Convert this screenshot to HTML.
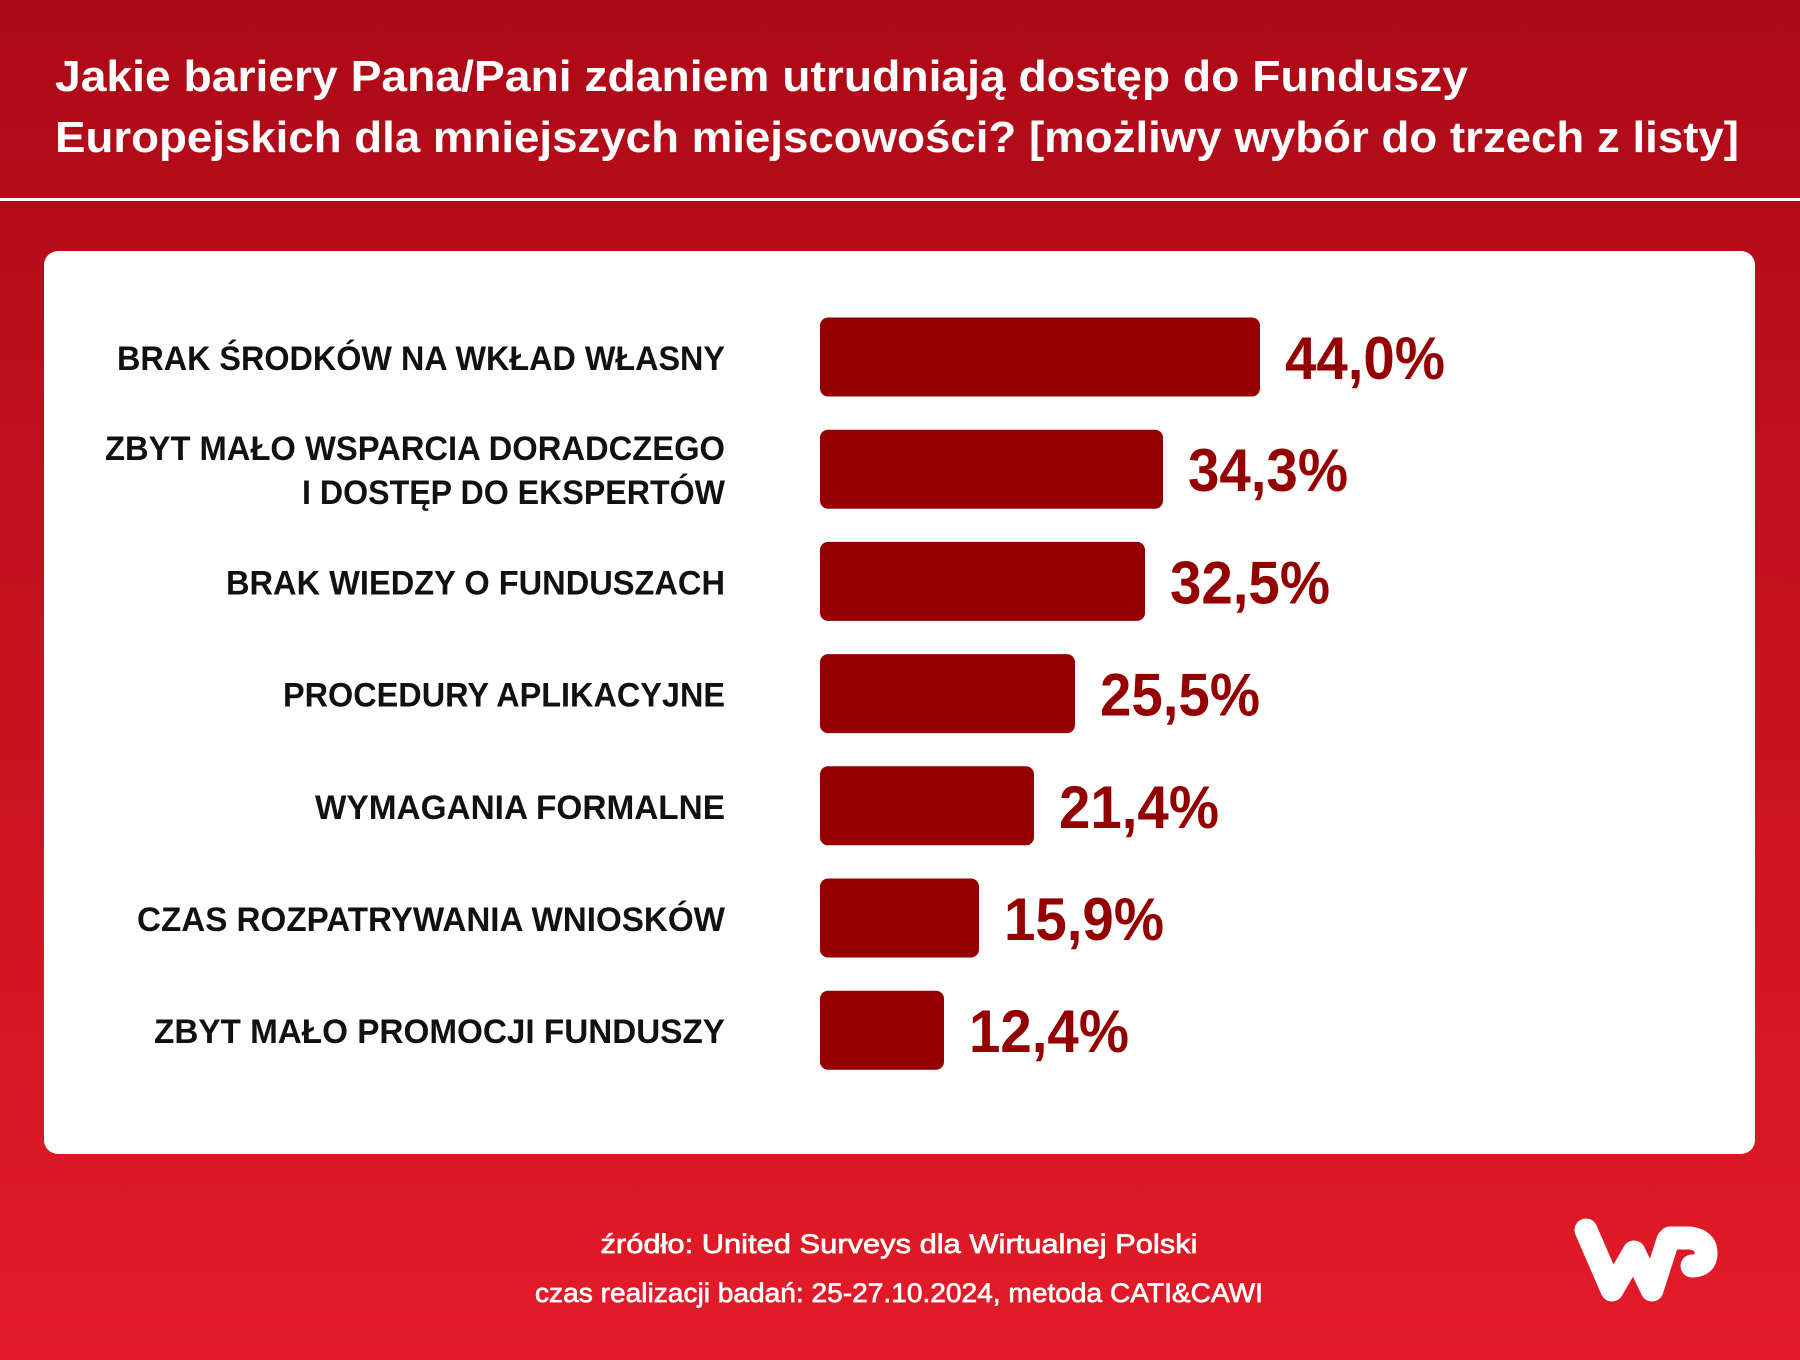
<!DOCTYPE html>
<html><head><meta charset="utf-8"><style>
html,body{margin:0;padding:0;width:1800px;height:1360px;overflow:hidden}
svg{display:block}
</style></head><body>
<svg id="chart" width="1800" height="1360" viewBox="0 0 1800 1360" xmlns="http://www.w3.org/2000/svg" font-family="'Liberation Sans', sans-serif">
<defs><linearGradient id="bg" x1="0" y1="0" x2="0" y2="1"><stop offset="0" stop-color="#ad0917"/><stop offset="1" stop-color="#e31b28"/></linearGradient></defs>
<rect x="0" y="0" width="1800" height="1360" fill="url(#bg)"/>
<text x="55" y="91" font-size="44" font-weight="bold" fill="#fff" textLength="1413" lengthAdjust="spacingAndGlyphs">Jakie bariery Pana/Pani zdaniem utrudniają dostęp do Funduszy</text>
<text x="55" y="152" font-size="44" font-weight="bold" fill="#fff" textLength="1684" lengthAdjust="spacingAndGlyphs">Europejskich dla mniejszych miejscowości? [możliwy wybór do trzech z listy]</text>
<rect x="0" y="198" width="1800" height="3" fill="#fff"/>
<rect x="44" y="251" width="1711" height="903" rx="14" fill="#fff"/>
<g id="bars"></g>
<text x="899" y="1253" font-size="27" fill="#fff" stroke="#fff" stroke-width="0.7" text-anchor="middle" textLength="597" lengthAdjust="spacingAndGlyphs">źródło: United Surveys dla Wirtualnej Polski</text>
<text x="899" y="1302" font-size="27" fill="#fff" stroke="#fff" stroke-width="0.7" text-anchor="middle" textLength="728" lengthAdjust="spacingAndGlyphs">czas realizacji badań: 25-27.10.2024, metoda CATI&amp;CAWI</text>
<g fill="none" stroke="#fff" stroke-linecap="round" stroke-linejoin="round" stroke-width="23">
<path d="M1586 1230 L1612 1290 L1634 1252 L1652 1290 L1668 1240"/>
<path d="M1670 1238 L1690 1238 Q1706 1240 1706 1253 Q1706 1266 1692 1266"/>
</g>
</svg>
<script>
const categories = [
  ["BRAK ŚRODKÓW NA WKŁAD WŁASNY"],
  ["ZBYT MAŁO WSPARCIA DORADCZEGO","I DOSTĘP DO EKSPERTÓW"],
  ["BRAK WIEDZY O FUNDUSZACH"],
  ["PROCEDURY APLIKACYJNE"],
  ["WYMAGANIA FORMALNE"],
  ["CZAS ROZPATRYWANIA WNIOSKÓW"],
  ["ZBYT MAŁO PROMOCJI FUNDUSZY"]
];
const values = [44.0, 34.3, 32.5, 25.5, 21.4, 15.9, 12.4];
const valueLabels = ["44,0%","34,3%","32,5%","25,5%","21,4%","15,9%","12,4%"];

// rendering style: label text widths matched to reference typography
const labelWidths = [[608],[620,423],[499],[442],[410],[588],[571]];

const NS = "http://www.w3.org/2000/svg";
const g = document.getElementById('bars');
const x0 = 820, pxPer = 10;
function xScale(v){ return x0 + v * pxPer; }
function yCenter(i){ return 357 + i * 112.2; }
const barH = 79;
function mk(tag, attrs){ const e = document.createElementNS(NS, tag); for (const k in attrs) e.setAttribute(k, attrs[k]); return e; }
values.forEach((v, i) => {
  const cy = yCenter(i);
  const r = mk('rect', {x: x0, y: cy - barH/2, width: xScale(v) - x0, height: barH, rx: 8, fill: '#940000'});
  
  
  g.appendChild(r);
  const t = mk('text', {x: xScale(v) + 25, y: cy + 22, 'font-size': 60, 'font-weight': 'bold', fill: '#940000'});
  t.textContent = valueLabels[i];
  
  
  g.appendChild(t);
  const lines = categories[i];
  lines.forEach((ln, j) => {
    const off = lines.length === 1 ? 13 : (j === 0 ? -9 : 35);
    const lt = mk('text', {x: 725, y: cy + off, 'font-size': 34, 'font-weight': 'bold', fill: '#111', 'text-anchor': 'end'});
    lt.textContent = ln;
    
    
    g.appendChild(lt);
    const wArr = labelWidths[i];
    if (wArr && wArr[j]) { lt.setAttribute('textLength', wArr[j]); lt.setAttribute('lengthAdjust', 'spacingAndGlyphs'); }
  });
  const tw = t.getComputedTextLength();
  if (tw > 160) { t.setAttribute('textLength', 160); t.setAttribute('lengthAdjust', 'spacingAndGlyphs'); }
});
</script>
</body></html>
